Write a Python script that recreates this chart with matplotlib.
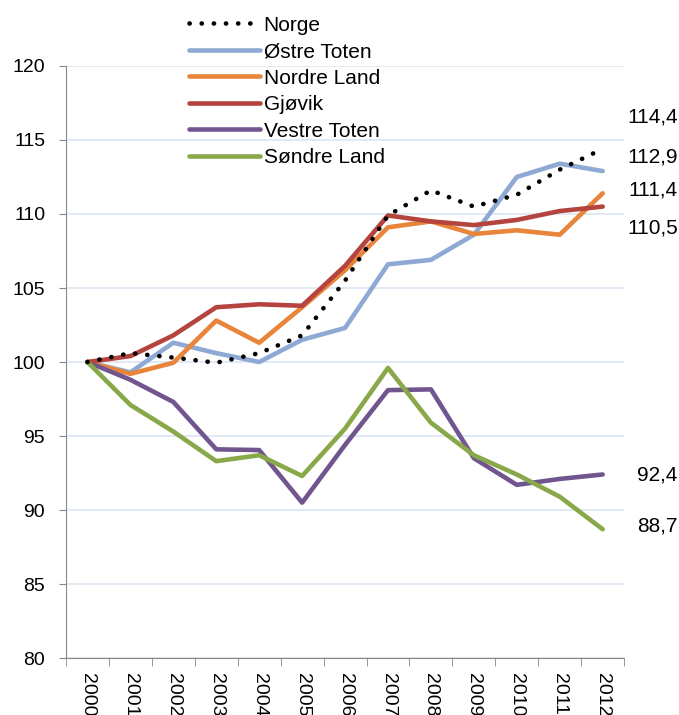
import matplotlib.pyplot as plt
from matplotlib.ticker import MultipleLocator, FixedLocator

plt.rcParams['font.family'] = ['Liberation Sans', 'DejaVu Sans']

years = ['2000', '2001', '2002', '2003', '2004', '2005', '2006',
         '2007', '2008', '2009', '2010', '2011', '2012']

norge = [100, 100.6, 100.3, 99.95, 100.6, 101.8, 105.5, 109.9, 111.6, 110.5, 111.3, 113.0, 114.4]
ostre_toten = [100, 99.3, 101.3, 100.6, 100.0, 101.5, 102.3, 106.6, 106.9, 108.6, 112.5, 113.4, 112.9]
nordre_land = [100, 99.2, 99.95, 102.8, 101.3, 103.7, 106.2, 109.1, 109.5, 108.65, 108.9, 108.6, 111.4]
gjovik = [100, 100.4, 101.8, 103.7, 103.9, 103.8, 106.5, 109.9, 109.5, 109.25, 109.6, 110.2, 110.5]
vestre_toten = [100, 98.8, 97.3, 94.1, 94.05, 90.5, 94.4, 98.1, 98.15, 93.5, 91.7, 92.1, 92.4]
sondre_land = [100, 97.1, 95.3, 93.3, 93.7, 92.3, 95.5, 99.6, 95.9, 93.7, 92.4, 90.9, 88.7]

end_labels = ['114,4', '112,9', '111,4', '110,5', '92,4', '88,7']
end_label_y = [116.55, 113.85, 111.6, 109.05, 92.36, 88.9]

fig = plt.figure(figsize=(6.79, 7.15), dpi=100)
ax = fig.add_axes([0.0972, 0.0797, 0.822, 0.828])

x = list(range(len(years)))
lw = 3.3
ax.plot(x, ostre_toten, color='#8eaad4', lw=lw, label='Østre Toten', solid_capstyle='round', zorder=3)
ax.plot(x, nordre_land, color='#e8853a', lw=lw, label='Nordre Land', solid_capstyle='round', zorder=3)
ax.plot(x, gjovik, color='#b5443f', lw=lw, label='Gjøvik', solid_capstyle='round', zorder=4)
ax.plot(x, vestre_toten, color='#70558f', lw=lw, label='Vestre Toten', solid_capstyle='round', zorder=3)
ax.plot(x, sondre_land, color='#89a84a', lw=lw, label='Søndre Land', solid_capstyle='round', zorder=4)
ax.plot(x, norge, color='black', lw=3.3, linestyle=(0, (0.05, 2.6)),
        dash_capstyle='round', label='Norge', zorder=5)

ax.set_xlim(-0.5, 12.5)
ax.set_ylim(80, 120)
ax.yaxis.set_major_locator(MultipleLocator(5))
ax.grid(axis='y', color='#dce6f2', lw=1.2)
ax.set_axisbelow(True)

ax.set_xticks(x)
ax.set_xticklabels(years, rotation=-90, fontsize=14)
ax.xaxis.set_minor_locator(FixedLocator([i - 0.5 for i in range(len(years) + 1)]))
ax.tick_params(axis='x', which='major', length=0, pad=11)
ax.tick_params(axis='x', which='minor', length=6, color='#888888', direction='out')
ax.tick_params(axis='y', length=5, color='#888888', labelsize=14, pad=10)

for s in ['top', 'right']:
    ax.spines[s].set_visible(False)
for s in ['left', 'bottom']:
    ax.spines[s].set_color('#888888')

for lab, yy in zip(end_labels, end_label_y):
    ax.text(13.75, yy, lab, ha='right', va='center', fontsize=15, clip_on=False)

handles, labels = ax.get_legend_handles_labels()
order = [5, 0, 1, 2, 3, 4]
fig.legend([handles[i] for i in order], [labels[i] for i in order],
           loc='upper left', bbox_to_anchor=(0.258, 0.997), frameon=False,
           fontsize=15, handlelength=3.4, handletextpad=0.2, labelspacing=0.36,
           borderaxespad=0.25)

fig.savefig('out.png', dpi=100)
